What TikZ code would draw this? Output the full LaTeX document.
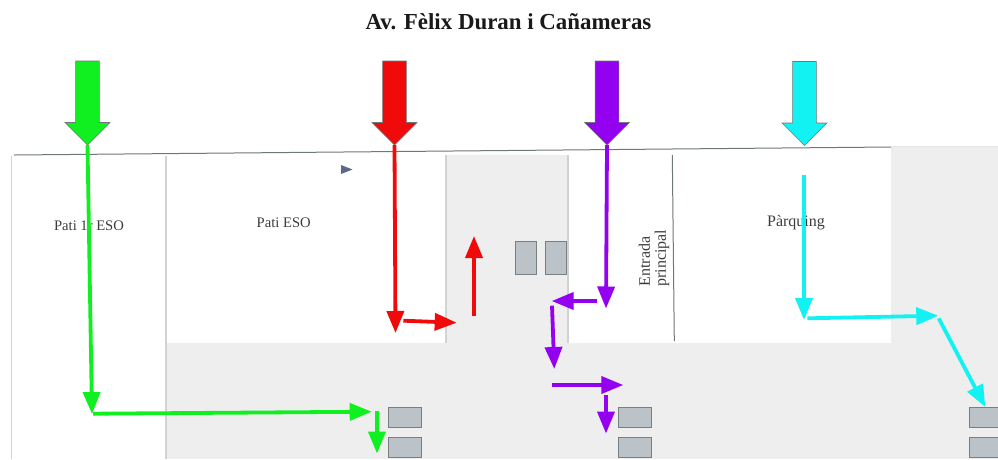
\documentclass[tikz,border=0pt]{standalone}
\usepackage{fontspec}
\setmainfont{Liberation Serif}
\usepackage{tikz}
\usetikzlibrary{arrows.meta}
\usetikzlibrary{positioning}
\usetikzlibrary{shapes.arrows}
\definecolor{zonegray}{HTML}{EEEEEE}
\definecolor{edgegray}{HTML}{D2D2D2}
\definecolor{wallgray}{HTML}{6F7878}
\definecolor{doorfill}{HTML}{BCC3C8}
\definecolor{doordraw}{HTML}{787F83}
\definecolor{textgray}{HTML}{3C3C3C}
\definecolor{routegreen}{HTML}{10F020}
\definecolor{routered}{HTML}{F00A0A}
\definecolor{routepurple}{HTML}{9400F0}
\definecolor{routecyan}{HTML}{12F2F2}
\tikzstyle{entrynode} = [draw=wallgray, line width=0.6pt, single arrow, shape border rotate=270, single arrow head extend=10.5pt, single arrow tip angle=90, single arrow head indent=0pt, inner sep=11.5pt, minimum width=45pt, minimum height=84pt, anchor=tip, outer sep=0pt]
\tikzstyle{doornode} = [draw=doordraw, fill=doorfill, line width=1pt, minimum width=33pt, minimum height=20pt, inner sep=0pt, outer sep=0pt]
\tikzstyle{sidedoor} = [doornode, minimum width=21pt, minimum height=33pt]
\tikzstyle{zonelabel} = [text=textgray, font=\fontsize{14.6}{16}\selectfont, inner sep=0pt]
\tikzstyle{route} = [line width=3.8pt, -{Triangle[length=22pt,width=17pt]}]
\tikzstyle{zone} = [fill=zonegray, draw=none]
\tikzstyle{zoneedge} = [edgegray, line width=1.6pt]

\begin{document}
\begin{tikzpicture}[x=1pt, y=-1pt]
  \clip (0,0) rectangle (998,459);

  \fill[zone] (166,343) rectangle (998,459);
  \fill[zone] (891,146) rectangle (998,343);
  \fill[zone] (446,155) rectangle (568,343);
  \draw[zoneedge] (11.5,156) -- (11.5,459);
  \draw[zoneedge] (166,156) -- (166,459);
  \draw[zoneedge] (446,155) -- (446,343);
  \draw[zoneedge] (568,155) -- (568,343);
  \draw[edgegray!60, line width=0.8pt] (891,146) -- (998,146);

  \node[font=\fontsize{22.9}{25}\selectfont\bfseries, text=black!90] (title) at (508.5,22) {Av. Fèlix Duran i Cañameras};

  \coordinate (wallA) at (14,155);
  \coordinate (wallB) at (891,147);
  \coordinate (entryA) at (672.3,155);
  \coordinate (entryB) at (674.3,341);
  \draw[wallgray, line width=1pt] (wallA) -- (wallB);
  \draw[wallgray, line width=1pt] (entryA) -- (entryB);
  \fill[wallgray!85!blue] (341,165) -- (352.5,169.5) -- (341,174) -- cycle;

  \node[zonelabel] (pati1) at (89,226) {Pati 1r ESO};
  \node[zonelabel] (pati2) at (283.7,222.7) {Pati ESO};
  \node[zonelabel, font=\fontsize{16}{18}\selectfont] (parking) at (796,222.7) {Pàrquing};
  \node[zonelabel, rotate=90, align=left, font=\fontsize{16}{16}\selectfont] (entrance) at (654,258) {Entrada\\principal};

  \node[doornode] (doorA) at (404.5,417.5) {};
  \node[doornode, below=10pt of doorA] (doorB) {};
  \node[doornode] (doorC) at (634.5,417.5) {};
  \node[doornode, below=10pt of doorC] (doorD) {};
  \node[doornode] (doorE) at (985.5,417.5) {};
  \node[doornode, below=10pt of doorE] (doorF) {};
  \node[sidedoor] (doorG) at (525.5,258) {};
  \node[sidedoor, right=9pt of doorG] (doorH) {};

  \node[entrynode, fill=routegreen] (ingreen) at (87.5,145) {};
  \node[entrynode, fill=routered] (inred) at (394.5,145) {};
  \node[entrynode, fill=routepurple] (inpurple) at (607,145) {};
  \node[entrynode, fill=routecyan] (incyan) at (804.5,145.5) {};

  \coordinate (g1) at (92,414);
  \coordinate (g2) at (93,413.7);
  \coordinate (g3) at (371.7,411.7);
  \coordinate (g4) at (377,410.7);
  \coordinate (g5) at (377,453.5);
  \draw[route, routegreen] (ingreen.tip) -- (g1);
  \draw[route, routegreen] (g2) -- (g3);
  \draw[route, routegreen] (g4) -- (g5);

  \coordinate (r1) at (395.5,333);
  \coordinate (r2) at (403.3,320.7);
  \coordinate (r3) at (456.7,322.7);
  \coordinate (r4) at (474,316);
  \coordinate (r5) at (474,236);
  \draw[route, routered] (inred.tip) -- (r1);
  \draw[route, routered] (r2) -- (r3);
  \draw[route, routered] (r4) -- (r5);

  \coordinate (p1) at (606,308.5);
  \coordinate (p2) at (597.3,301);
  \coordinate (p3) at (551.7,301);
  \coordinate (p4) at (552,305.7);
  \coordinate (p5) at (554.3,369);
  \coordinate (p6) at (552,385);
  \coordinate (p7) at (623.3,385);
  \coordinate (p8) at (606,395);
  \coordinate (p9) at (606,433.5);
  \draw[route, routepurple] (inpurple.tip) -- (p1);
  \draw[route, routepurple] (p2) -- (p3);
  \draw[route, routepurple] (p4) -- (p5);
  \draw[route, routepurple] (p6) -- (p7);
  \draw[route, routepurple] (p8) -- (p9);

  \coordinate (c1) at (804,175);
  \coordinate (c2) at (804,320);
  \coordinate (c3) at (807.3,318.3);
  \coordinate (c4) at (938.3,315.7);
  \coordinate (c5) at (938.7,318.3);
  \coordinate (c6) at (985.3,407);
  \draw[route, routecyan] (c1) -- (c2);
  \draw[route, routecyan] (c3) -- (c4);
  \draw[route, routecyan] (c5) -- (c6);
\end{tikzpicture}
\end{document}
